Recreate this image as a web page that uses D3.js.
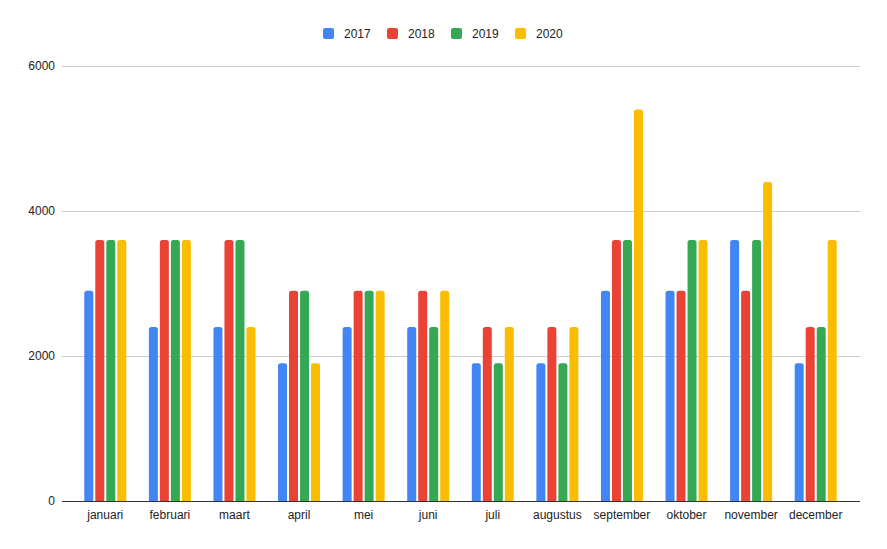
<!DOCTYPE html>
<html><head><meta charset="utf-8">
<script src="https://cdn.jsdelivr.net/npm/d3@7"></script>
<style>body{margin:0;background:#fff;font-family:Arial,"Liberation Sans",sans-serif;}</style>
</head><body><svg id="c" width="887" height="549"></svg>
<script>
const months = ["januari","februari","maart","april","mei","juni","juli","augustus","september","oktober","november","december"];
const seriesNames = ["2017","2018","2019","2020"];
const colors = ["#4285F4","#EA4335","#34A853","#FBBC04"];
const v2017 = [2900,2400,2400,1900,2400,2400,1900,1900,2900,2900,3600,1900];
const v2018 = [3600,3600,3600,2900,2900,2900,2400,2400,3600,2900,2900,2400];
const v2019 = [3600,3600,3600,2900,2900,2400,1900,1900,3600,3600,3600,2400];
const v2020 = [3600,3600,2400,1900,2900,2900,2400,2400,5400,3600,4400,3600];
const yTicks = [0,2000,4000,6000];
const values = [v2017,v2018,v2019,v2020];

const svg = d3.select("#c");
const plotL = 62, plotR = 860;
const y = d3.scaleLinear().domain([0,6000]).range([501,66]);
const x = d3.scaleBand().domain(months).range([73,848]);
const x1 = d3.scaleBand().domain(seriesNames).range([-21,21]).paddingInner(2/11);

// gridlines
svg.append("g").selectAll("line").data(yTicks.filter(t=>t>0)).join("line")
  .attr("x1",plotL).attr("x2",plotR).attr("y1",d=>y(d)).attr("y2",d=>y(d))
  .attr("stroke","#cccccc").attr("stroke-width",1).attr("shape-rendering","crispEdges");

// y labels
svg.append("g").selectAll("text").data(yTicks).join("text")
  .attr("x",55).attr("y",d=>y(d)).attr("dy","0.35em").attr("text-anchor","end")
  .attr("font-size",12).attr("fill","#222").text(d=>d);

// bars
function barPath(x0,w,y0,y1,r){
  r=Math.min(r,w/2,(y1-y0));
  return `M${x0},${y1}V${y0+r}Q${x0},${y0} ${x0+r},${y0}H${x0+w-r}Q${x0+w},${y0} ${x0+w},${y0+r}V${y1}Z`;
}
const g = svg.append("g");
months.forEach((m,i)=>{
  const cx = x(m)+x.bandwidth()/2;
  seriesNames.forEach((s,j)=>{
    const v = values[j][i];
    g.append("path")
      .attr("d",barPath(cx+x1(s),x1.bandwidth(),y(v),y(0),2.5))
      .attr("fill",colors[j]);
  });
});

// baseline
svg.append("line").attr("x1",plotL).attr("x2",plotR).attr("y1",y(0)+0.5).attr("y2",y(0)+0.5)
  .attr("stroke","#333").attr("stroke-width",1);

// x labels
svg.append("g").selectAll("text").data(months).join("text")
  .attr("x",d=>x(d)+x.bandwidth()/2).attr("y",515).attr("dy","0.35em").attr("text-anchor","middle")
  .attr("font-size",12).attr("fill","#222").text(d=>d);

// legend
const lg = svg.append("g");
seriesNames.forEach((s,j)=>{
  const lx = 323 + j*64;
  lg.append("rect").attr("x",lx).attr("y",28).attr("width",11).attr("height",11).attr("rx",2).attr("fill",colors[j]);
  lg.append("text").attr("x",lx+21).attr("y",34).attr("dy","0.35em").attr("font-size",12).attr("fill","#222").text(s);
});
</script></body></html>
